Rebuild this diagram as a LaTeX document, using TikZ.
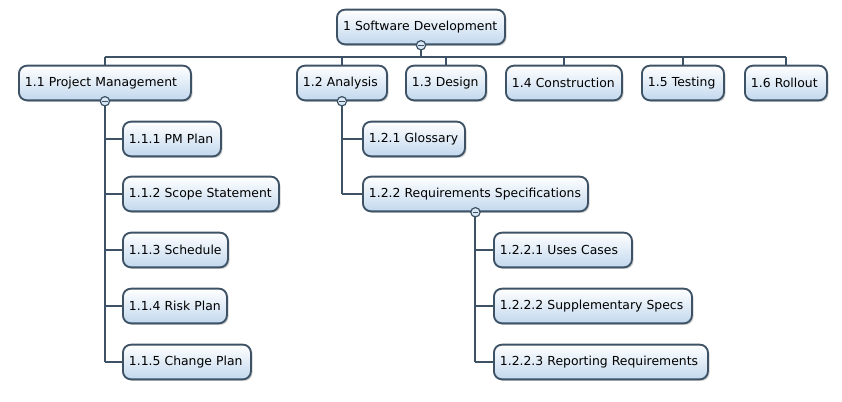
\documentclass[tikz,border=0pt]{standalone}
\usepackage{fontspec}
\setmainfont{DejaVu Sans}
\usetikzlibrary{shadows}
\definecolor{bd}{HTML}{3E5266}
\definecolor{lb}{HTML}{C2D8EE}
\begin{document}
\begin{tikzpicture}[x=0.75pt,y=-0.75pt,
  box/.style={draw=bd,line width=1.4pt,rounded corners=6pt,top color=white,bottom color=lb,
    minimum height=26pt,inner xsep=4.5pt,font=\fontsize{9.3}{10}\selectfont,align=left,
    text width=#1*0.75pt-9pt,
    drop shadow={shadow xshift=1.2pt,shadow yshift=-1.2pt,fill=black!30,opacity=0.6}},
  ln/.style={draw=bd,line width=1.5pt},
  coll/.style={circle,draw=bd,line width=0.9pt,fill=lb!60,inner sep=0pt,minimum size=7pt,
    path picture={\draw[bd,line width=0.9pt] ([xshift=-2pt]path picture bounding box.center) -- ([xshift=2pt]path picture bounding box.center);}}]
\useasboundingbox (0,0) rectangle (842,402);
\node[box=168] (r) at (421,27) {1 Software Development};
\node[box=172,anchor=west] (n11) at (18,83) {1.1 Project Management};
\node[box=90,anchor=west] (n12) at (296,83) {1.2 Analysis};
\node[box=80,anchor=west] (n13) at (405,83) {1.3 Design};
\node[box=116,anchor=west] (n14) at (505,83) {1.4 Construction};
\node[box=82,anchor=west] (n15) at (641,83) {1.5 Testing};
\node[box=82,anchor=west] (n16) at (744,83) {1.6 Rollout};
\node[box=98,anchor=west] (n111) at (122,139) {1.1.1 PM Plan};
\node[box=156,anchor=west] (n112) at (122,194) {1.1.2 Scope Statement};
\node[box=105,anchor=west] (n113) at (122,250) {1.1.3 Schedule};
\node[box=104,anchor=west] (n114) at (122,306) {1.1.4 Risk Plan};
\node[box=128,anchor=west] (n115) at (122,362) {1.1.5 Change Plan};
\node[box=102,anchor=west] (n121) at (362,139) {1.2.1 Glossary};
\node[box=225,anchor=west] (n122) at (362,194) {1.2.2 Requirements Specifications};
\node[box=138,anchor=west] (n1221) at (493,250) {1.2.2.1 Uses Cases};
\node[box=198,anchor=west] (n1222) at (493,306) {1.2.2.2 Supplementary Specs};
\node[box=214,anchor=west] (n1223) at (493,362) {1.2.2.3 Reporting Requirements};
\coordinate (bus) at (421,57);
\draw[ln] (r.south) -- (bus);
\draw[ln] (n11.north |- bus) -- (n16.north |- bus);
\foreach \n in {n11,n12,n13,n14,n15,n16} \draw[ln] (\n.north |- bus) -- (\n.north);
\draw[ln] (n11.south) -- (n11.south |- n115.west);
\foreach \n in {n111,n112,n113,n114,n115} \draw[ln] (n11.south |- \n.west) -- (\n.west);
\draw[ln] (n12.south) -- (n12.south |- n122.west);
\foreach \n in {n121,n122} \draw[ln] (n12.south |- \n.west) -- (\n.west);
\draw[ln] (n122.south) -- (n122.south |- n1223.west);
\foreach \n in {n1221,n1222,n1223} \draw[ln] (n122.south |- \n.west) -- (\n.west);
\node[coll] at (r.south) {};
\node[coll] at (n11.south) {};
\node[coll] at (n12.south) {};
\node[coll] at (n122.south) {};
\end{tikzpicture}
\end{document}
